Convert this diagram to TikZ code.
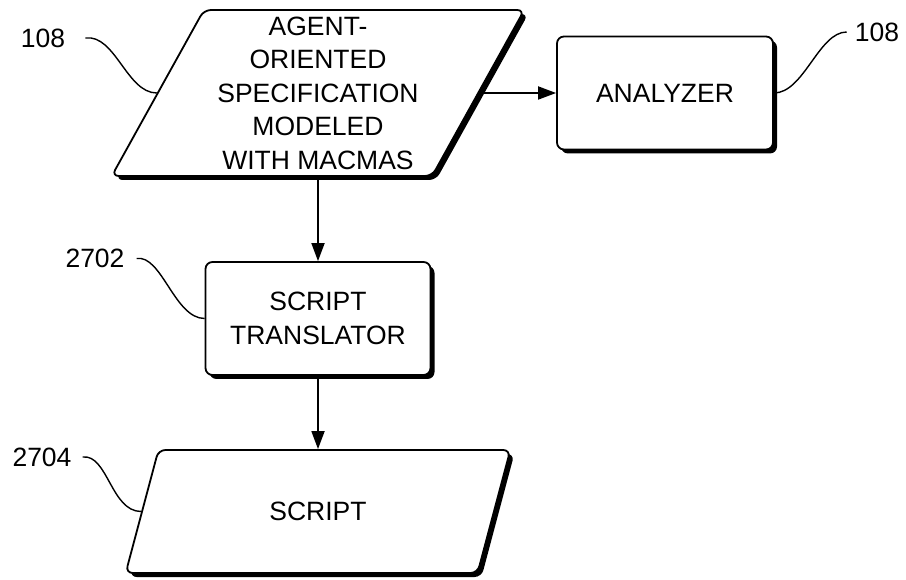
\documentclass[tikz,border=0pt]{standalone}
\usepackage{fontspec}
\setmainfont{Liberation Sans}
\usetikzlibrary{shapes.geometric,shadows,arrows.meta}
\begin{document}
\begin{tikzpicture}[x=1pt,y=-1pt,
  every node/.style={font=\fontsize{26.5}{33.5}\selectfont},
  boxsh/.style={draw, line width=1.8pt, fill=white, rounded corners=7pt,
    drop shadow={shadow xshift=4pt, shadow yshift=-4pt, opacity=1, fill=black}},
  rbox/.style={boxsh, rectangle, align=center, inner sep=0pt},
  pgram/.style={boxsh, trapezium, trapezium left angle=62, trapezium right angle=118,
    trapezium stretches=true, align=center, inner sep=0pt},
  conn/.style={line width=1.8pt, -{Triangle[length=18pt,width=13pt]}},
  lead/.style={line width=1.4pt},
  lbl/.style={inner sep=0pt}
]
\useasboundingbox (0,0) rectangle (906,580);
\node[pgram, minimum width=413pt, minimum height=166pt] (spec) at (318,93)
  {AGENT-\\ORIENTED\\SPECIFICATION\\MODELED\\WITH MACMAS};
\node[rbox, minimum width=216pt, minimum height=113pt] (an) at (665,93) {ANALYZER};
\node[rbox, minimum width=225pt, minimum height=113pt] (tr) at (318,318.5) {SCRIPT\\TRANSLATOR};
\node[pgram, minimum width=385pt, minimum height=123pt] (scr) at (318,511.5) {SCRIPT};

\draw[conn] (spec) -- (an);
\draw[conn] (spec.south) -- (tr.north);
\draw[conn] (tr.south) -- (scr.north);

\node[lbl] (l1) at (43,38) {108};
\node[lbl] (l2) at (877,32) {108};
\node[lbl] (l3) at (95,258.5) {2702};
\node[lbl] (l4) at (42,457) {2704};

\draw[lead] ([xshift=20pt]l1.east) .. controls +(30,-4) and +(-30,0) .. (spec.west);
\draw[lead] ([xshift=-8pt]l2.west) .. controls +(-28,0) and +(30,0) .. (an.east);
\draw[lead] ([xshift=12pt]l3.east) .. controls +(25,-4) and +(-30,0) .. (tr.west);
\draw[lead] ([xshift=11pt]l4.east) .. controls +(25,-3) and +(-30,0) .. (scr.west);
\end{tikzpicture}
\end{document}
